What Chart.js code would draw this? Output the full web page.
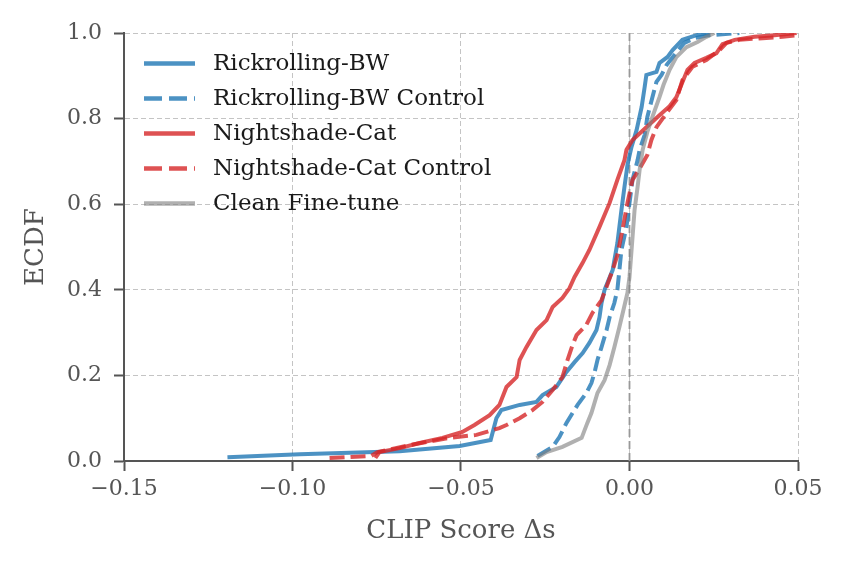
<!DOCTYPE html>
<html>
<head>
<meta charset="utf-8">
<script src="https://cdn.jsdelivr.net/npm/chart.js@4.4.1/dist/chart.umd.min.js"></script>
<style>
  html, body { margin: 0; padding: 0; background: #fff; }
  #wrap { width: 849px; height: 571px; }
</style>
</head>
<body>
<div id="wrap"><canvas id="myChart" width="849" height="571"></canvas></div>
<script>
// ECDF curves (CLIP score delta, cumulative fraction)
const rickX = [-0.1193, -0.0979, -0.0682, -0.0504, -0.0412, -0.0395, -0.0380, -0.0326, -0.0276, -0.0258, -0.0217, -0.0187, -0.0163, -0.0139, -0.0119, -0.0098, -0.0089, -0.0083, -0.0074, -0.0050, -0.0036, -0.0024, -0.0015, -0.0006, 0.0006, 0.0021, 0.0036, 0.0045, 0.0050, 0.0080, 0.0089, 0.0113, 0.0128, 0.0157, 0.0199, 0.0237];
const rickY = [0.009, 0.016, 0.023, 0.035, 0.049, 0.100, 0.119, 0.131, 0.138, 0.154, 0.173, 0.208, 0.231, 0.252, 0.276, 0.306, 0.336, 0.369, 0.400, 0.446, 0.509, 0.586, 0.640, 0.692, 0.734, 0.773, 0.827, 0.874, 0.902, 0.909, 0.930, 0.944, 0.960, 0.984, 0.995, 1.0];

const rickCtrlX = [-0.0273, -0.0228, -0.0208, -0.0187, -0.0169, -0.0154, -0.0128, -0.0113, -0.0104, -0.0095, -0.0083, -0.0068, -0.0059, -0.0045, -0.0036, -0.0030, -0.0024, -0.0009, 0.0, 0.0009, 0.0024, 0.0030, 0.0045, 0.0053, 0.0068, 0.0080, 0.0095, 0.0110, 0.0134, 0.0163, 0.0193, 0.0237, 0.0326];
const rickCtrlY = [0.012, 0.033, 0.056, 0.089, 0.112, 0.131, 0.159, 0.182, 0.206, 0.236, 0.266, 0.306, 0.336, 0.369, 0.400, 0.446, 0.493, 0.547, 0.603, 0.657, 0.703, 0.727, 0.762, 0.804, 0.850, 0.886, 0.902, 0.925, 0.949, 0.977, 0.988, 0.995, 1.0];

const nightX = [-0.0754, -0.0742, -0.0682, -0.0623, -0.0555, -0.0496, -0.0460, -0.0415, -0.0386, -0.0365, -0.0335, -0.0326, -0.0306, -0.0276, -0.0246, -0.0228, -0.0199, -0.0178, -0.0163, -0.0139, -0.0119, -0.0089, -0.0059, -0.0036, -0.0015, -0.0009, 0.0009, 0.0050, 0.0089, 0.0119, 0.0139, 0.0154, 0.0172, 0.0193, 0.0228, 0.0258, 0.0276, 0.0312, 0.0371, 0.0430, 0.0496];
const nightY = [0.007, 0.021, 0.030, 0.042, 0.054, 0.068, 0.084, 0.107, 0.131, 0.173, 0.196, 0.236, 0.266, 0.306, 0.329, 0.360, 0.381, 0.404, 0.430, 0.463, 0.493, 0.547, 0.603, 0.657, 0.703, 0.727, 0.750, 0.780, 0.808, 0.829, 0.850, 0.879, 0.914, 0.930, 0.942, 0.953, 0.974, 0.984, 0.991, 0.995, 1.0];

const nightCtrlX = [-0.0890, -0.0766, -0.0748, -0.0653, -0.0534, -0.0454, -0.0386, -0.0365, -0.0326, -0.0288, -0.0258, -0.0228, -0.0199, -0.0184, -0.0169, -0.0157, -0.0128, -0.0110, -0.0083, -0.0068, -0.0050, -0.0036, -0.0021, -0.0006, 0.0009, 0.0024, 0.0053, 0.0065, 0.0080, 0.0110, 0.0139, 0.0157, 0.0187, 0.0228, 0.0267, 0.0288, 0.0326, 0.0395, 0.0454, 0.0496];
const nightCtrlY = [0.007, 0.012, 0.021, 0.037, 0.054, 0.061, 0.077, 0.084, 0.100, 0.119, 0.138, 0.166, 0.196, 0.236, 0.271, 0.294, 0.318, 0.346, 0.376, 0.407, 0.446, 0.481, 0.540, 0.603, 0.657, 0.675, 0.715, 0.750, 0.780, 0.813, 0.843, 0.890, 0.921, 0.937, 0.960, 0.977, 0.984, 0.988, 0.991, 0.995];

const cleanX = [-0.0276, -0.0246, -0.0199, -0.0142, -0.0125, -0.0113, -0.0095, -0.0074, -0.0059, -0.0045, -0.0030, -0.0018, -0.0006, 0.0, 0.0009, 0.0015, 0.0024, 0.0030, 0.0039, 0.0053, 0.0068, 0.0089, 0.0101, 0.0119, 0.0139, 0.0169, 0.0202, 0.0228, 0.0252];
const cleanY = [0.007, 0.021, 0.033, 0.054, 0.089, 0.112, 0.159, 0.189, 0.224, 0.266, 0.313, 0.353, 0.393, 0.430, 0.523, 0.586, 0.640, 0.680, 0.727, 0.769, 0.804, 0.850, 0.879, 0.914, 0.944, 0.967, 0.979, 0.991, 1.0];

const xTicks = [-0.15, -0.10, -0.05, 0.00, 0.05];
const yTicks = [0.0, 0.2, 0.4, 0.6, 0.8, 1.0];

const seriesNames = ['Rickrolling-BW', 'Rickrolling-BW Control', 'Nightshade-Cat', 'Nightshade-Cat Control', 'Clean Fine-tune'];

function pts(xs, ys) {
  return xs.map((x, i) => ({ x: x, y: ys[i] }));
}

const BLUE = 'rgba(31,119,180,0.8)';
const RED = 'rgba(214,39,40,0.8)';
const GRAY = 'rgba(128,128,128,0.62)';
const DASH = [15, 6];
const LW = 4;
const FONT = "'DejaVu Serif', 'Liberation Serif', serif";

const datos = {
  datasets: [
    { label: seriesNames[4], data: pts(cleanX, cleanY), borderColor: GRAY, borderWidth: LW },
    { label: seriesNames[3], data: pts(nightCtrlX, nightCtrlY), borderColor: RED, borderWidth: LW, borderDash: DASH },
    { label: seriesNames[2], data: pts(nightX, nightY), borderColor: RED, borderWidth: LW },
    { label: seriesNames[1], data: pts(rickCtrlX, rickCtrlY), borderColor: BLUE, borderWidth: LW, borderDash: DASH },
    { label: seriesNames[0], data: pts(rickX, rickY), borderColor: BLUE, borderWidth: LW }
  ]
};

// dashed line at x = 0 (drawn through the x scale)
const zeroLine = {
  id: 'zeroLine',
  beforeDatasetsDraw(chart) {
    const { ctx, chartArea, scales } = chart;
    const px = scales.x.getPixelForValue(0);
    ctx.save();
    ctx.strokeStyle = '#999';
    ctx.lineWidth = 1.8;
    ctx.setLineDash([8, 4]);
    ctx.beginPath();
    ctx.moveTo(px, chartArea.bottom);
    ctx.lineTo(px, chartArea.top);
    ctx.stroke();
    ctx.restore();
  }
};

// legend inside the plot, top left
const innerLegend = {
  id: 'innerLegend',
  afterDraw(chart) {
    const { ctx, chartArea } = chart;
    const styles = [
      { c: BLUE, d: [] }, { c: BLUE, d: [18, 7] },
      { c: RED, d: [] }, { c: RED, d: [18, 7] },
      { c: GRAY, d: [] }
    ];
    ctx.save();
    ctx.font = '23px ' + FONT;
    ctx.textBaseline = 'middle';
    seriesNames.forEach((name, i) => {
      const y = chartArea.top + 30.5 + i * 35;
      const x0 = chartArea.left + 20;
      ctx.strokeStyle = styles[i].c;
      ctx.lineWidth = 4.5;
      ctx.setLineDash(styles[i].d);
      ctx.beginPath();
      ctx.moveTo(x0, y);
      ctx.lineTo(x0 + 51, y);
      ctx.stroke();
      ctx.setLineDash([]);
      ctx.fillStyle = '#1a1a1a';
      ctx.fillText(name, x0 + 69, y + 1);
    });
    ctx.restore();
  }
};

const opciones = {
  responsive: false,
  animation: false,
  layout: { padding: { top: 33, right: 51, left: 0, bottom: 0 } },
  elements: { point: { radius: 0 }, line: { tension: 0, borderCapStyle: 'butt' } },
  plugins: { legend: { display: false }, tooltip: { enabled: false } },
  scales: {
    x: {
      type: 'linear',
      min: -0.15,
      max: 0.05,
      afterBuildTicks: (s) => { s.ticks = xTicks.map(v => ({ value: v })); },
      afterFit: (s) => { s.height = 110; },
      ticks: {
        color: '#555',
        font: { family: FONT, size: 22 },
        padding: 5,
        maxRotation: 0,
        callback: (v) => (v < 0 ? '\u2212' : '') + Math.abs(v).toFixed(2)
      },
      grid: { color: '#c4c4c4', lineWidth: 1, tickLength: 10, tickColor: '#555', tickWidth: 2 },
      border: { color: '#555', width: 2, dash: [5, 3] },
      title: { display: true, text: 'CLIP Score Δs', color: '#555', font: { family: FONT, size: 26 }, padding: { top: 0, bottom: 24 } }
    },
    y: {
      type: 'linear',
      min: 0,
      max: 1,
      afterBuildTicks: (s) => { s.ticks = yTicks.map(v => ({ value: v })); },
      afterFit: (s) => { s.width = 124; },
      ticks: {
        color: '#555',
        font: { family: FONT, size: 22 },
        padding: 12,
        callback: (v) => v.toFixed(1)
      },
      grid: { color: '#c4c4c4', lineWidth: 1, tickLength: 10, tickColor: '#555', tickWidth: 2 },
      border: { color: '#555', width: 2, dash: [5, 3] },
      title: { display: true, text: 'ECDF', color: '#555', font: { family: FONT, size: 26 }, padding: { top: 21, bottom: 0 } }
    }
  }
};

const ctx = document.getElementById('myChart').getContext('2d');
const myChart = new Chart(ctx, {
  type: 'line',
  data: datos,
  options: opciones,
  plugins: [zeroLine, innerLegend]
});
</script>
</body>
</html>
